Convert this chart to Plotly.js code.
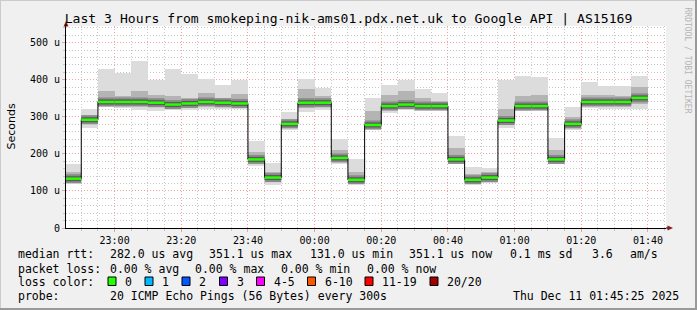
<!DOCTYPE html>
<html><head><meta charset="utf-8">
<script src="https://cdn.plot.ly/plotly-3.0.1.min.js"></script>
<style>html,body{margin:0;padding:0;background:#f0f0f0;} #chart{width:697px;height:310px;}</style>
</head><body><div id="chart"></div>
<script>
// ---- data ----
const barStarts = [
 '2025-12-10 22:45','2025-12-10 22:50','2025-12-10 22:55','2025-12-10 23:00','2025-12-10 23:05',
 '2025-12-10 23:10','2025-12-10 23:15','2025-12-10 23:20','2025-12-10 23:25','2025-12-10 23:30',
 '2025-12-10 23:35','2025-12-10 23:40','2025-12-10 23:45','2025-12-10 23:50','2025-12-10 23:55',
 '2025-12-11 00:00','2025-12-11 00:05','2025-12-11 00:10','2025-12-11 00:15','2025-12-11 00:20',
 '2025-12-11 00:25','2025-12-11 00:30','2025-12-11 00:35','2025-12-11 00:40','2025-12-11 00:45',
 '2025-12-11 00:50','2025-12-11 00:55','2025-12-11 01:00','2025-12-11 01:05','2025-12-11 01:10',
 '2025-12-11 01:15','2025-12-11 01:20','2025-12-11 01:25','2025-12-11 01:30','2025-12-11 01:35'];
const medianRtt = [133,292,340,340,340,338,333,336,340,338,336,185,136,281,338,338,189,130,278,329,
                   333,329,329,185,130,136,290,329,329,185,281,340,340,340,351];
const smokeMin  = [119,269,327,323,318,316,318,318,322,322,320,166,116,265,314,318,173,119,265,311,
                   318,318,318,175,119,121,269,316,318,172,265,325,322,322,321];
const smokeLow  = [126,280,334,332,328,328,326,330,332,330,328,175,125,272,325,328,180,125,270,320,
                   325,323,323,180,125,128,280,322,323,178,272,332,332,330,335];
const smokeHigh = [150,305,370,355,370,360,355,352,365,352,362,205,150,295,375,355,210,150,315,360,
                   370,350,340,215,145,152,320,355,360,210,300,360,360,355,380];
const smokeMax  = [172,321,429,419,451,399,429,416,402,385,399,235,175,313,402,377,240,186,350,386,
                   398,375,364,247,164,162,398,410,408,244,327,395,383,383,411];
const yTickVals = [0,100,200,300,400,500];
const yTickText = ['0','100 u','200 u','300 u','400 u','500 u'];
const lossLabels = ['0','1','2','3','4-5','6-10','11-19','20/20'];
const lossColors = ['#26ff00','#00b8ff','#0059ff','#7e00ff','#ff00ff','#ff5500','#ff0000','#a10000'];
const chartTitle = 'Last 3 Hours from smokeping-nik-ams01.pdx.net.uk to Google API | AS15169';
const statRows = [
  [['median rtt:',16],['282.0 us avg',107.6],['351.1 us max',207],['131.0 us min',307.6],['351.1 us now',407],['0.1 ms sd',507.6],['3.6',590],['am/s',628]],
  [['packet loss:',16],['0.00 % avg',107.6],['0.00 % max',193],['0.00 % min',279],['0.00 % now',365]],
  [['loss color:',16]],
  [['probe:',16],['20 ICMP Echo Pings (56 Bytes) every 300s',107.6]]
];
const stampText = 'Thu Dec 11 01:45:25 2025';
const lossBoxX = [108,145,182,219.5,256.5,307.5,365,430];

// ---- helpers ----
const STEP = 300000;
const toMs = s => Date.parse(s.replace(' ','T')+':00Z');
const L = 66, R = 666, T = 26, B = 228;
const px = x => (x - L)/(R - L);
const py = y => (B - y)/(B - T);
const mono = 'DejaVu Sans Mono';
const LEG = 11.5;

const starts = barStarts.map(toMs);
const centers = starts.map(s => s + STEP/2);

function band(lo, hi, color){
  return {type:'bar', x:centers, base:lo, y:hi.map((h,i)=>h-lo[i]), width:centers.map(()=>STEP),
          marker:{color:color, line:{width:0}}, hoverinfo:'skip', showlegend:false};
}
const traces = [
  band(smokeMin, smokeMax, '#dcdcdc'),
  band(smokeLow, smokeHigh, '#b4b4b4'),
];
const segX=[], segY=[];
starts.forEach((s,i)=>{ segX.push(s, s+STEP, null); segY.push(medianRtt[i], medianRtt[i], null); });
traces.push({type:'scatter', mode:'lines', x:segX, y:segY, line:{color:'#8a8a8a', width:9}, hoverinfo:'skip', showlegend:false});
traces.push({type:'scatter', mode:'lines', x:segX, y:segY, line:{color:'#5a5a5a', width:5}, hoverinfo:'skip', showlegend:false});
traces.push({type:'scatter', mode:'lines', x:starts.concat([starts[starts.length-1]+STEP]),
             y:medianRtt.concat([medianRtt[medianRtt.length-1]]), line:{color:'#000', width:1, shape:'hv'},
             hoverinfo:'skip', showlegend:false});
traces.push({type:'scatter', mode:'lines', x:segX, y:segY, line:{color:lossColors[0], width:2.5}, hoverinfo:'skip', showlegend:false});

const annotations = [];
const rowY = [254.5, 268.5, 282.3, 296.3];
statRows.forEach((row,r)=>row.forEach(([t,x])=>annotations.push({
  text:t, x:px(x), y:py(rowY[r]), xref:'paper', yref:'paper', xanchor:'left', yanchor:'middle',
  showarrow:false, font:{family:mono, size:LEG, color:'#000'}})));
annotations.push({text:stampText, x:px(680.5), y:py(rowY[3]), xref:'paper', yref:'paper', xanchor:'right', yanchor:'middle',
  showarrow:false, font:{family:mono, size:LEG, color:'#000'}});
const shapes = [];
lossLabels.forEach((lab,i)=>{
  shapes.push({type:'rect', xref:'paper', yref:'paper', x0:px(lossBoxX[i]), x1:px(lossBoxX[i]+8), y0:py(285.5), y1:py(277),
    fillcolor:lossColors[i], line:{color:'#000', width:1}});
  annotations.push({text:lab, x:px(lossBoxX[i]+15), y:py(rowY[2]), xref:'paper', yref:'paper', xanchor:'left', yanchor:'middle',
    showarrow:false, font:{family:mono, size:LEG, color:'#000'}});
});
annotations.push({text:'Seconds', x:px(10.5), y:py(127), xref:'paper', yref:'paper', textangle:-90, xanchor:'center', yanchor:'middle',
  showarrow:false, font:{family:'DejaVu Sans', size:11, color:'#000'}});
annotations.push({text:'RRDTOOL / TOBI OETIKER', x:px(687.5), y:py(60), xref:'paper', yref:'paper', textangle:90, xanchor:'center', yanchor:'middle',
  showarrow:false, font:{family:mono, size:8, color:'#b4b4b4'}});
shapes.push({type:'path', xref:'paper', yref:'paper', path:`M ${px(63.5)} ${py(26.5)} L ${px(68.5)} ${py(26.5)} L ${px(66)} ${py(21)} Z`, fillcolor:'#8b1a1a', line:{width:0}});
shapes.push({type:'path', xref:'paper', yref:'paper', path:`M ${px(667.5)} ${py(225.5)} L ${px(667.5)} ${py(230.5)} L ${px(673)} ${py(228)} Z`, fillcolor:'#8b1a1a', line:{width:0}});
shapes.push({type:'line', xref:'paper', yref:'paper', x0:px(666), x1:px(668), y0:0, y1:0, line:{color:'#000', width:1}});
shapes.push({type:'line', xref:'paper', yref:'paper', x0:0, x1:0, y0:1, y1:py(24), line:{color:'#000', width:1}});
shapes.push({type:'line', xref:'paper', yref:'paper', x0:px(0), x1:px(697), y0:py(0.5), y1:py(0.5), line:{color:'#cbcbcb', width:1}});
shapes.push({type:'line', xref:'paper', yref:'paper', x0:px(0.5), x1:px(0.5), y0:py(0), y1:py(310), line:{color:'#cbcbcb', width:1}});
shapes.push({type:'line', xref:'paper', yref:'paper', x0:px(0), x1:px(697), y0:py(309), y1:py(309), line:{color:'#999999', width:2}});
shapes.push({type:'line', xref:'paper', yref:'paper', x0:px(696), x1:px(696), y0:py(0), y1:py(310), line:{color:'#999999', width:2}});

const layout = {
  width:697, height:310, margin:{l:L, r:697-R, t:T, b:310-B, pad:0},
  paper_bgcolor:'#f0f0f0', plot_bgcolor:'#ffffff', barmode:'overlay', bargap:0, showlegend:false,
  title:{text:chartTitle, x:0.5, xanchor:'center', xref:'container', y:1-18.5/310, yref:'container', yanchor:'middle',
         font:{family:mono, size:13.1, color:'#000'}},
  xaxis:{type:'date', range:['2025-12-10 22:45:25','2025-12-11 01:45:25'], tick0:'2025-12-10 23:00', dtick:1200000,
         tickformat:'%H:%M', tickfont:{family:mono, size:10, color:'#000'}, ticks:'outside', ticklen:3, tickcolor:'#f0a0a0',
         showgrid:true, gridcolor:'#f2a0a0', griddash:'1px,2px', gridwidth:1,
         minor:{dtick:STEP, tick0:'2025-12-10 22:50', showgrid:true, gridcolor:'#c8c8c8', griddash:'1px,2px', ticks:'outside', ticklen:2, tickcolor:'#c8c8c8'},
         showline:true, linecolor:'#000', linewidth:1, zeroline:false, fixedrange:true},
  yaxis:{range:[0,545], tickvals:yTickVals, ticktext:yTickText, tickfont:{family:mono, size:10, color:'#000'},
         ticks:'outside', ticklen:3, tickcolor:'#f0a0a0',
         showgrid:true, gridcolor:'#f2a0a0', griddash:'1px,2px', gridwidth:1,
         minor:{dtick:20, showgrid:true, gridcolor:'#c8c8c8', griddash:'1px,2px', ticks:'outside', ticklen:2, tickcolor:'#c8c8c8'},
         showline:true, linecolor:'#000', linewidth:1, zeroline:false, fixedrange:true},
  annotations:annotations, shapes:shapes
};
Plotly.newPlot('chart', traces, layout, {staticPlot:true, displayModeBar:false});
</script></body></html>
